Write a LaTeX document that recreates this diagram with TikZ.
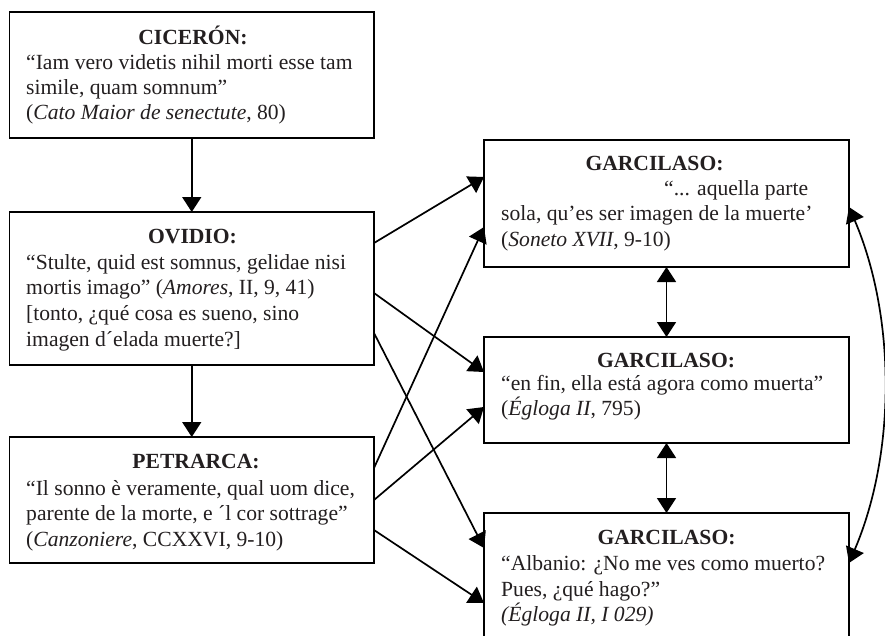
\documentclass[tikz,border=0pt]{standalone}
\usepackage{fontspec}
\setmainfont{Liberation Serif}
\usetikzlibrary{arrows.meta}
\definecolor{ink}{RGB}{35,31,32}
\begin{document}
\begin{tikzpicture}[x=1pt,y=-1pt,
  box/.style={draw=black,line width=1.8pt,inner sep=0pt,outer sep=0pt},
  txt/.style={anchor=base west,inner sep=0pt,font=\fontsize{21.6}{25}\selectfont,text=ink},
  ttl/.style={anchor=base,inner sep=0pt,font=\fontsize{21.6}{25}\selectfont\bfseries,text=ink},
  tip/.style={},
  arr/.style={line width=1.7pt,-{Triangle[width=19pt,length=15pt]}},
  dbl/.style={line width=1.7pt,{Triangle[width=19pt,length=15pt]}-{Triangle[width=19pt,length=15pt]}}]
\clip (0,0) rectangle (885,635);
\fill[white] (0,0) rectangle (885,635);
% boxes
\node[box,minimum width=364.5pt,minimum height=126pt] (c) at (191.75,75) {};
\node[box,minimum width=364.5pt,minimum height=153pt] (o) at (191.75,288.5) {};
\node[box,minimum width=364.5pt,minimum height=126pt] (p) at (191.75,500) {};
\node[box,minimum width=365pt,minimum height=127pt] (g1) at (666.5,203.5) {};
\node[box,minimum width=365pt,minimum height=106pt] (g2) at (666.5,390) {};
\node[box,minimum width=365pt,minimum height=160pt] (g3) at (666.5,593) {};
% Ciceron
\node[ttl] (c0) at (193,44) {CICERÓN:};
\node[txt] (c1) at (26,69) {“Iam vero videtis nihil morti esse tam};
\node[txt] (c2) at (26,94) {simile, quam somnum”};
\node[txt] (c3) at (26,119) {(\textit{Cato Maior de senectute}, 80)};
% Ovidio
\node[ttl] (o0) at (192.5,243) {OVIDIO:};
\node[txt] (o1) at (26,269) {“Stulte, quid est somnus, gelidae nisi};
\node[txt] (o2) at (26,294) {mortis imago” (\textit{Amores}, II, 9, 41)};
\node[txt] (o3) at (26,320) {[tonto, ¿qué cosa es sueno, sino};
\node[txt] (o4) at (26,346) {imagen d´elada muerte?]};
% Petrarca
\node[ttl] (p0) at (196,468) {PETRARCA:};
\node[txt] (p1) at (26,495) {“Il sonno è veramente, qual uom dice,};
\node[txt] (p2) at (26,520) {parente de la morte, e ´l cor sottrage”};
\node[txt] (p3) at (26,546) {(\textit{Canzoniere}, CCXXVI, 9-10)};
% Garcilaso 1
\node[ttl] (a0) at (654.5,170) {GARCILASO:};
\node[txt] (a1) at (664,195) {“... aquella parte};
\node[txt] (a2) at (501,220) {sola, qu’es ser imagen de la muerte’};
\node[txt] (a3) at (501,246) {(\textit{Soneto XVII}, 9-10)};
% Garcilaso 2
\node[ttl] (b0) at (666,367) {GARCILASO:};
\node[txt] (b1) at (501,390) {“en fin, ella está agora como muerta”};
\node[txt] (b2) at (501,415) {(\textit{Égloga II}, 795)};
% Garcilaso 3
\node[ttl] (d0) at (666.5,544) {GARCILASO:};
\node[txt] (d1) at (501,570) {“Albanio: ¿No me ves como muerto?};
\node[txt] (d2) at (501,596) {Pues, ¿qué hago?”};
\node[txt] (d3) at (501,621) {\textit{(Égloga II, I 029)}};
% connectors
\draw[arr] (c.south) -- (o.north);
\draw[arr] (o.south) -- (p.north);
\draw[arr] ([yshift=45.5pt]o.east) -- ([yshift=26.5pt]g1.west);
\draw[arr] ([yshift=-4.5pt]o.east) -- ([yshift=18pt]g2.west);
\draw[arr] ([yshift=-44.5pt]o.east) -- ([yshift=-35pt]g3.north west);
\draw[arr] ([yshift=32pt]p.east) -- ([yshift=-23.5pt]g1.west);
\draw[arr] (p.east) -- ([yshift=-17pt]g2.west);
\draw[arr] ([yshift=-30pt]p.east) -- ([yshift=-90pt]g3.north west);
\draw[dbl] (g1.south) -- (g2.north);
\draw[dbl] (g2.south) -- (g3.north);
\draw[dbl] ([yshift=-3.5pt]g1.east) .. controls +(47,110) and +(47,-110) .. ([yshift=-50pt]g3.north east);
\end{tikzpicture}
\end{document}
